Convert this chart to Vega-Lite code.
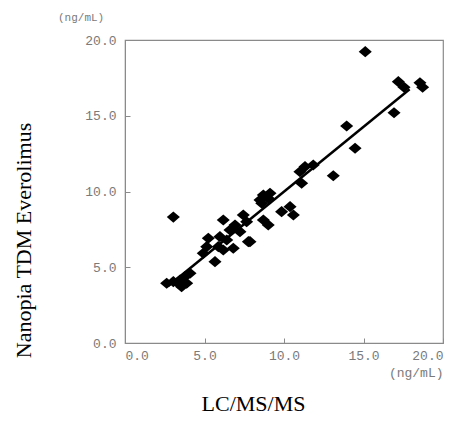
{
  "$schema": "https://vega.github.io/schema/vega-lite/v6.json",
  "width": 318,
  "height": 303,
  "autosize": "none",
  "padding": {"left": 125, "top": 40, "right": 22, "bottom": 80},
  "background": "white",
  "title": {"text": "(ng/mL)", "anchor": "start", "frame": "group", "dx": -67, "offset": 0, "baseline": "bottom", "font": "Liberation Mono", "fontSize": 11, "fontWeight": "normal", "color": "#7a7a7a"},
  "config": {
    "view": {"stroke": "#8a8a8a", "strokeWidth": 1.2},
    "axis": {"grid": false, "domainColor": "#8a8a8a", "tickColor": "#8a8a8a", "tickSize": -5, "labelFont": "Liberation Mono", "labelFontSize": 13, "labelColor": "#7a7a7a", "titleFont": "Liberation Serif", "titleFontSize": 22, "titleFontWeight": "normal", "titleColor": "black"}
  },
  "datasets": {
    "pts": [
      {"lcms": 15.11, "nanopia": 19.23},
      {"lcms": 17.19, "nanopia": 17.25},
      {"lcms": 17.55, "nanopia": 16.88},
      {"lcms": 18.55, "nanopia": 17.18},
      {"lcms": 18.72, "nanopia": 16.88},
      {"lcms": 16.92, "nanopia": 15.2},
      {"lcms": 13.94, "nanopia": 14.32},
      {"lcms": 14.47, "nanopia": 12.85},
      {"lcms": 13.1, "nanopia": 11.04},
      {"lcms": 11.32, "nanopia": 11.64},
      {"lcms": 11.84, "nanopia": 11.75},
      {"lcms": 11.0, "nanopia": 11.3},
      {"lcms": 11.11, "nanopia": 10.54},
      {"lcms": 8.7, "nanopia": 9.77},
      {"lcms": 9.01, "nanopia": 9.55},
      {"lcms": 8.49, "nanopia": 9.44},
      {"lcms": 9.12, "nanopia": 9.88},
      {"lcms": 8.6, "nanopia": 9.22},
      {"lcms": 8.7, "nanopia": 8.12},
      {"lcms": 9.01, "nanopia": 7.79},
      {"lcms": 9.85, "nanopia": 8.67},
      {"lcms": 10.38, "nanopia": 9.0},
      {"lcms": 10.59, "nanopia": 8.45},
      {"lcms": 7.86, "nanopia": 6.69},
      {"lcms": 6.18, "nanopia": 8.12},
      {"lcms": 7.44, "nanopia": 8.45},
      {"lcms": 7.65, "nanopia": 8.0},
      {"lcms": 6.92, "nanopia": 7.79},
      {"lcms": 6.6, "nanopia": 7.46},
      {"lcms": 7.23, "nanopia": 7.35},
      {"lcms": 5.97, "nanopia": 7.02},
      {"lcms": 6.4, "nanopia": 6.8},
      {"lcms": 5.24, "nanopia": 6.91},
      {"lcms": 5.14, "nanopia": 6.36},
      {"lcms": 5.87, "nanopia": 6.36},
      {"lcms": 6.18, "nanopia": 6.14},
      {"lcms": 6.81, "nanopia": 6.25},
      {"lcms": 7.76, "nanopia": 6.69},
      {"lcms": 5.66, "nanopia": 5.37},
      {"lcms": 4.92, "nanopia": 5.92},
      {"lcms": 3.04, "nanopia": 8.31},
      {"lcms": 2.62, "nanopia": 3.94},
      {"lcms": 3.04, "nanopia": 4.05},
      {"lcms": 3.46, "nanopia": 4.16},
      {"lcms": 3.88, "nanopia": 3.94},
      {"lcms": 3.77, "nanopia": 4.38},
      {"lcms": 4.09, "nanopia": 4.6},
      {"lcms": 3.56, "nanopia": 3.72},
      {"lcms": 3.35, "nanopia": 3.94}
    ],
    "fit": [
      {"lcms": 2.7, "nanopia": 3.75},
      {"lcms": 17.9, "nanopia": 16.75}
    ]
  },
  "layer": [
    {
      "data": {"name": "fit"},
      "mark": {"type": "line", "color": "black", "strokeWidth": 2.5},
      "encoding": {
        "x": {"field": "lcms", "type": "quantitative", "scale": {"domain": [0, 20]},
          "axis": {"values": [0, 5, 10, 15, 20], "labelExpr": "datum.value == 20 ? ['20.0', '(ng/mL)'] : format(datum.value, '.1f')", "labelPadding": 11, "labelLineHeight": 17, "title": "LC/MS/MS", "titleX": 128, "titleY": 60, "titleBaseline": "middle"}},
        "y": {"field": "nanopia", "type": "quantitative", "scale": {"domain": [0, 20]},
          "axis": {"values": [0, 5, 10, 15, 20], "format": ".1f", "labelPadding": 14, "title": "Nanopia TDM Everolimus", "titleX": -102, "titleY": 200, "titleBaseline": "middle"}}
      }
    },
    {
      "data": {"name": "pts"},
      "mark": {"type": "point", "shape": "M-1,0L0,-0.85L1,0L0,0.85Z", "filled": true, "color": "black", "opacity": 1, "size": 170},
      "encoding": {
        "x": {"field": "lcms", "type": "quantitative"},
        "y": {"field": "nanopia", "type": "quantitative"}
      }
    }
  ]
}
